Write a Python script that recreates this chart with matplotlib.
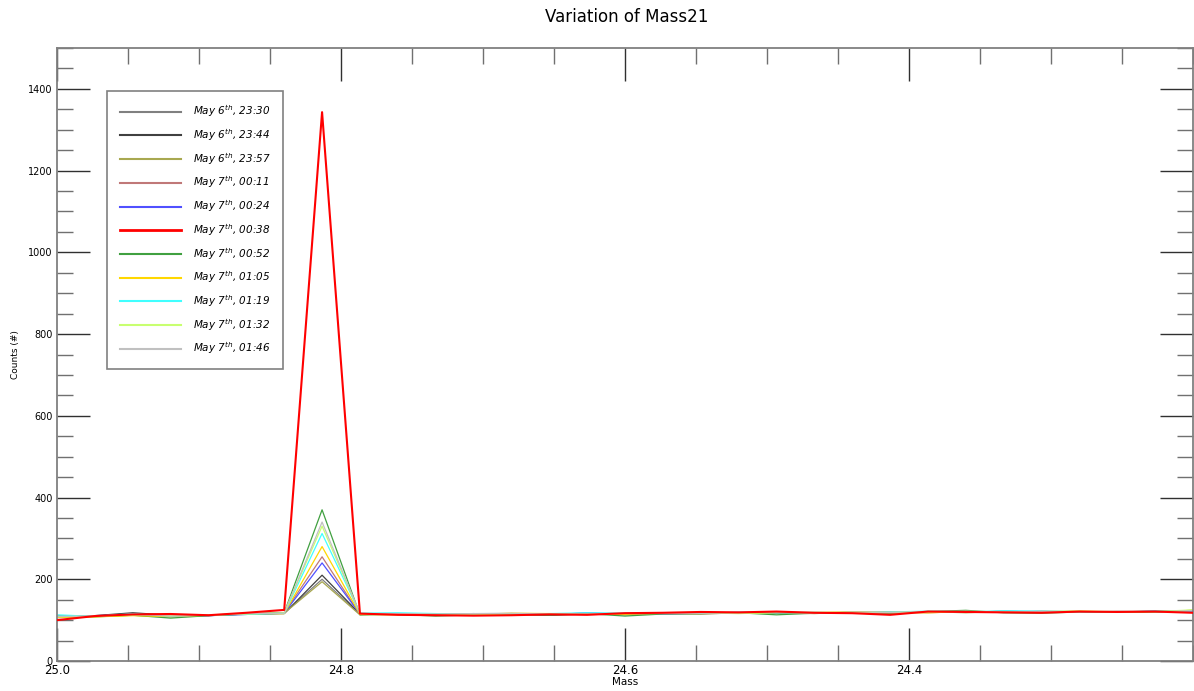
import numpy as np
import matplotlib
matplotlib.use("Agg")
import matplotlib.pyplot as plt
from matplotlib.ticker import MultipleLocator, FixedLocator, FormatStrFormatter

# ---- data ----
mass = [25.0 - i * 0.8 / 30 for i in range(31)]

labels = [r"May 6$^{th}$, 23:30", r"May 6$^{th}$, 23:44", r"May 6$^{th}$, 23:57",
          r"May 7$^{th}$, 00:11", r"May 7$^{th}$, 00:24", r"May 7$^{th}$, 00:38",
          r"May 7$^{th}$, 00:52", r"May 7$^{th}$, 01:05", r"May 7$^{th}$, 01:19",
          r"May 7$^{th}$, 01:32", r"May 7$^{th}$, 01:46"]
colors = ["#808080", "#404040", "#a8a850", "#c07878", "#5050ff", "#ff0000",
          "#40a040", "#ffd700", "#40ffff", "#c8ff70", "#c0c0c0"]
x_major_ticks = [25.0, 24.8, 24.6, 24.4]

s2330 = [108, 110, 115, 110, 112, 114, 117, 200, 114, 115, 113, 114, 115, 113, 116, 114, 117, 116, 117, 118, 117, 119, 118, 120, 119, 121, 120, 119, 121, 121, 122]
s2344 = [107, 111, 118, 112, 111, 115, 116, 210, 115, 114, 114, 116, 114, 112, 115, 115, 116, 117, 118, 117, 118, 118, 119, 119, 120, 120, 121, 120, 120, 122, 121]
s2357 = [109, 109, 112, 108, 112, 116, 117, 194, 113, 116, 112, 113, 116, 114, 117, 113, 116, 115, 118, 118, 116, 120, 117, 121, 118, 122, 119, 121, 120, 121, 123]
s0011 = [106, 110, 114, 111, 113, 115, 118, 255, 114, 115, 114, 113, 114, 115, 115, 116, 117, 116, 117, 119, 118, 119, 119, 118, 121, 120, 122, 120, 121, 120, 122]
s0024 = [109, 111, 113, 110, 111, 114, 117, 240, 115, 114, 113, 112, 116, 113, 118, 114, 115, 117, 119, 118, 117, 118, 120, 119, 119, 122, 120, 121, 119, 122, 121]
s0038 = [100, 110, 114, 115, 112, 118, 125, 1343, 116, 113, 112, 111, 112, 114, 113, 117, 118, 120, 119, 121, 118, 117, 113, 121, 120, 119, 118, 121, 120, 121, 118]
s0052 = [110, 108, 112, 105, 111, 115, 118, 370, 113, 114, 110, 113, 115, 112, 116, 110, 115, 116, 118, 113, 117, 119, 118, 121, 124, 118, 117, 120, 119, 120, 124]
s0105 = [107, 108, 111, 109, 112, 115, 116, 280, 114, 113, 115, 114, 117, 116, 115, 114, 117, 118, 117, 118, 119, 120, 119, 118, 121, 120, 121, 122, 120, 121, 124]
s0119 = [113, 109, 116, 110, 113, 114, 117, 312, 117, 118, 116, 114, 115, 116, 118, 117, 118, 117, 119, 118, 119, 118, 120, 122, 120, 123, 122, 121, 120, 122, 123]
s0132 = [108, 110, 112, 111, 113, 115, 118, 330, 116, 115, 114, 113, 115, 116, 114, 116, 117, 118, 116, 119, 118, 119, 119, 120, 121, 121, 120, 122, 121, 121, 125]
s0146 = [109, 110, 114, 110, 112, 116, 117, 340, 116, 116, 115, 116, 117, 115, 115, 117, 116, 117, 118, 120, 117, 120, 119, 121, 122, 120, 121, 120, 122, 121, 123]

series = [s2330, s2344, s2357, s0011, s0024, s0038, s0052, s0105, s0119, s0132, s0146]

# ---- plot ----
W, H = 1194, 691
fig = plt.figure(figsize=(W / 100, H / 100), dpi=100)
ax = fig.add_axes([57 / W, 1 - 661 / H, (1193 - 57) / W, (661 - 48) / H])

order = [0, 1, 2, 3, 4, 6, 7, 8, 9, 10, 5]
for k in order:
    ax.plot(mass, series[k], color=colors[k], lw=1.5 if k == 5 else 0.9,
            zorder=3 if k == 5 else 2)

ax.set_xlim(25.0, 24.2)
ax.set_ylim(0, 1500)
ax.xaxis.set_major_locator(FixedLocator(x_major_ticks))
ax.xaxis.set_minor_locator(MultipleLocator(0.05))
ax.yaxis.set_major_locator(MultipleLocator(200))
ax.yaxis.set_minor_locator(MultipleLocator(50))
ax.xaxis.set_major_formatter(FormatStrFormatter("%.1f"))

ax.tick_params(axis="both", which="major", direction="in", length=24, width=1.0,
               color="#303030", top=True, right=True)
ax.tick_params(axis="both", which="minor", direction="in", length=11.5, width=1.0,
               color="#707070", top=True, right=True)
ax.tick_params(axis="x", which="major", labelsize=8.5, pad=2)
ax.tick_params(axis="y", which="major", labelsize=7, pad=3)
for sp in ax.spines.values():
    sp.set_color("#808080")
    sp.set_linewidth(1.3)

ax.set_xlabel("Mass", fontsize=7.5, labelpad=0)
ax.set_ylabel("Counts (#)", fontsize=6.5, labelpad=6)
fig.suptitle("Variation of Mass21", fontsize=12, x=627 / W, y=1 - 8 / H, va="top")

leg_handles = []
for k in range(11):
    h, = ax.plot([], [], color=colors[k], lw=2.0 if k == 5 else 1.5)
    leg_handles.append(h)

leg = ax.legend(leg_handles, labels,
                loc="upper left", bbox_to_anchor=((107 - 57) / 1136, (661 - 91) / 613),
                fancybox=False, framealpha=1, edgecolor="#808080",
                prop={"size": 7.5, "style": "italic"},
                handlelength=5.9, handletextpad=1.15, labelspacing=0.76,
                borderpad=1.2, borderaxespad=0)
leg.get_frame().set_linewidth(1.2)

fig.savefig("out.png", dpi=100)
